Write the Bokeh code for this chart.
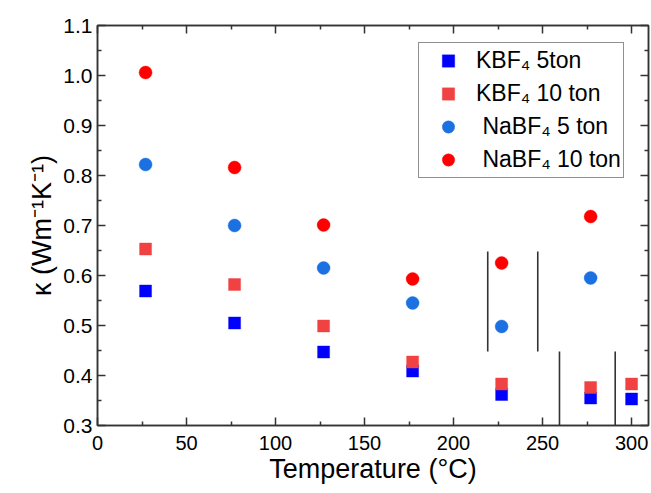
from bokeh.plotting import figure
from bokeh.models import (LinearAxis, FixedTicker, PrintfTickFormatter, Range1d,
                          Legend, LegendItem, CustomLabelingPolicy)
from bokeh.embed import file_html
from bokeh.resources import INLINE

# ---- data ----
temps = [27, 77, 127, 177, 227, 277, 300]
kbf4_5ton = [0.569, 0.505, 0.447, 0.409, 0.362, 0.355, 0.353]
kbf4_10ton = [0.653, 0.582, 0.499, 0.427, 0.383, 0.376, 0.383]
nabf4_temps = [27, 77, 127, 177, 227, 277]
nabf4_5ton = [0.822, 0.700, 0.615, 0.545, 0.498, 0.595]
nabf4_10ton = [1.006, 0.816, 0.701, 0.593, 0.625, 0.718]

# vertical separator lines
line_x = [219.2, 247.3, 259.5, 290.8]
line_bottom = [0.448, 0.448, 0.3, 0.3]
line_top = [0.648, 0.648, 0.448, 0.448]

x_ticks = [0, 50, 100, 150, 200, 250, 300]
y_ticks = [0.3, 0.4, 0.5, 0.6, 0.7, 0.8, 0.9, 1.0, 1.1]
x_minor = [25, 75, 125, 175, 225, 275]
y_minor = [0.35, 0.45, 0.55, 0.65, 0.75, 0.85, 0.95, 1.05]

FONT = "Liberation Sans"
AXC = "#333333"

p = figure(frame_width=551, frame_height=400, output_backend="svg",
           toolbar_location=None,
           x_range=Range1d(0, 309.5), y_range=Range1d(0.3, 1.1),
           x_axis_location=None, y_axis_location=None,
           min_border_left=97, min_border_right=3, min_border_top=25,
           min_border_bottom=60)
p.grid.visible = False
p.outline_line_color = AXC
p.outline_line_width = 1.5
p.background_fill_color = "white"
p.border_fill_color = "white"

no_labels = CustomLabelingPolicy(code="""
    for (const i of Array.from(indices)) {
        indices.unset(i)
    }
    return indices
""")


def make_axis(kind, labels=True, label_text=None):
    ax = LinearAxis()
    if kind == "x":
        ax.ticker = FixedTicker(ticks=x_ticks, minor_ticks=x_minor)
        ax.formatter = PrintfTickFormatter(format="%d")
    else:
        ax.ticker = FixedTicker(ticks=y_ticks, minor_ticks=y_minor)
        ax.formatter = PrintfTickFormatter(format="%.1f")
    ax.axis_line_color = AXC
    ax.axis_line_width = 1.5
    ax.major_tick_line_color = AXC
    ax.major_tick_line_width = 1.5
    ax.minor_tick_line_color = AXC
    ax.minor_tick_line_width = 1.5
    ax.major_tick_in = 8
    ax.major_tick_out = 0
    ax.minor_tick_in = 4
    ax.minor_tick_out = 0
    if labels:
        ax.major_label_text_font = FONT
        ax.major_label_text_font_size = "20px" if kind == "x" else "21px"
        ax.major_label_text_color = "black"
        ax.major_label_standoff = 10 if kind == "x" else 5
    else:
        ax.major_label_policy = no_labels
        ax.major_label_text_font_size = "10px"
        ax.major_label_standoff = 0
    if label_text:
        ax.axis_label = label_text
        ax.axis_label_text_font = FONT
        ax.axis_label_text_font_size = "27px"
        ax.axis_label_text_font_style = "normal"
        ax.axis_label_text_color = "black"
        ax.axis_label_standoff = 1 if kind == "x" else 3
    return ax


p.add_layout(make_axis("x", True, "Temperature (°C)"), "below")
p.add_layout(make_axis("y", True, "κ (Wm⁻¹K⁻¹)"), "left")
p.add_layout(make_axis("x", False), "above")
p.add_layout(make_axis("y", False), "right")

# separator lines
p.segment(x0=line_x, y0=line_bottom, x1=line_x, y1=line_top,
          line_color=AXC, line_width=1.6)

r1 = p.scatter(temps, kbf4_5ton, marker="square", size=12,
               fill_color="#0000FF", line_color="#0000FF", line_alpha=0.4)
r2 = p.scatter(temps, kbf4_10ton, marker="square", size=12,
               fill_color="#F04242", line_color="#F04242", line_alpha=0.4)
r3 = p.scatter(nabf4_temps, nabf4_5ton, marker="circle", size=13,
               fill_color="#1B70E2", line_color="#1B70E2", line_alpha=0.4)
r4 = p.scatter(nabf4_temps, nabf4_10ton, marker="circle", size=13,
               fill_color="#FF0000", line_color="#FF0000", line_alpha=0.4)

legend = Legend(items=[
    LegendItem(label="KBF₄ 5ton", renderers=[r1]),
    LegendItem(label="KBF₄ 10 ton", renderers=[r2]),
    LegendItem(label=" NaBF₄ 5 ton", renderers=[r3]),
    LegendItem(label=" NaBF₄ 10 ton", renderers=[r4]),
], location=(321, 247))
legend.label_text_font = FONT
legend.label_text_font_size = "23px"
legend.label_text_color = "black"
legend.glyph_width = 54
legend.glyph_height = 31
legend.label_height = 20
legend.label_standoff = 1
legend.spacing = 2
legend.padding = 2
legend.margin = 0
legend.border_line_color = "#222222"
legend.border_line_width = 1.5
legend.background_fill_alpha = 1.0
p.add_layout(legend, "center")

open("out.html", "w").write(file_html(p, INLINE))
